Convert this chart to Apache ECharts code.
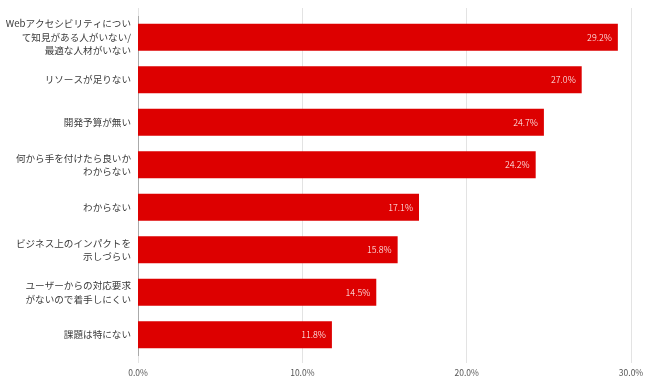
<!DOCTYPE html>
<html><head><meta charset="utf-8">
<script src="https://cdn.jsdelivr.net/npm/echarts@6/dist/echarts.min.js"></script>
<style>html,body{margin:0;padding:0;background:#fff}#c{width:659px;height:386px}</style>
</head><body><div id="c"></div>
<script>
const categories = [
  "Webアクセシビリティについ\nて知見がある人がいない/\n最適な人材がいない",
  "リソースが足りない",
  "開発予算が無い",
  "何から手を付けたら良いか\nわからない",
  "わからない",
  "ビジネス上のインパクトを\n示しづらい",
  "ユーザーからの対応要求\nがないので着手しにくい",
  "課題は特にない"
];
const values = [29.2, 27.0, 24.7, 24.2, 17.1, 15.8, 14.5, 11.8];
const xTicks = [0, 10, 20, 30];

const font = '"Noto Sans CJK JP", "Noto Sans", sans-serif';
const chart = echarts.init(document.getElementById('c'), null, {renderer: 'canvas'});
chart.setOption({
  animation: false,
  textStyle: {fontFamily: font},
  grid: {left: 138, right: 28, top: 16, bottom: 30, containLabel: false},
  xAxis: [{
    type: 'value', min: xTicks[0], max: xTicks[xTicks.length - 1], interval: 10,
    axisLine: {show: false},
    axisTick: {show: true, length: 7, lineStyle: {color: '#e3e3e3', width: 1}},
    splitLine: {show: true, lineStyle: {color: '#e3e3e3', width: 1}},
    axisLabel: {formatter: v => v.toFixed(1) + '%', fontSize: 8.5, color: '#555', margin: 13, fontFamily: font}
  }, {
    type: 'value', position: 'top', min: xTicks[0], max: xTicks[xTicks.length - 1], interval: 10,
    axisLine: {show: false},
    axisTick: {show: true, length: 8, lineStyle: {color: '#e3e3e3', width: 1}},
    splitLine: {show: false}, axisLabel: {show: false}
  }],
  yAxis: {
    type: 'category', data: categories, inverse: true,
    axisLine: {show: true, lineStyle: {color: '#aaa', width: 1}},
    axisTick: {show: false},
    axisLabel: {fontSize: 9.6, color: '#3a3a3a', lineHeight: 13.5, align: 'right', margin: 7, fontFamily: font}
  },
  series: [{
    type: 'bar', data: values, barWidth: 27, xAxisIndex: 0,
    itemStyle: {color: '#dd0000'},
    label: {show: true, position: 'insideRight', distance: 6, formatter: p => p.value.toFixed(1) + '%',
      color: '#fff', fontSize: 9, fontWeight: 300, fontFamily: font}
  }]
});
</script></body></html>
